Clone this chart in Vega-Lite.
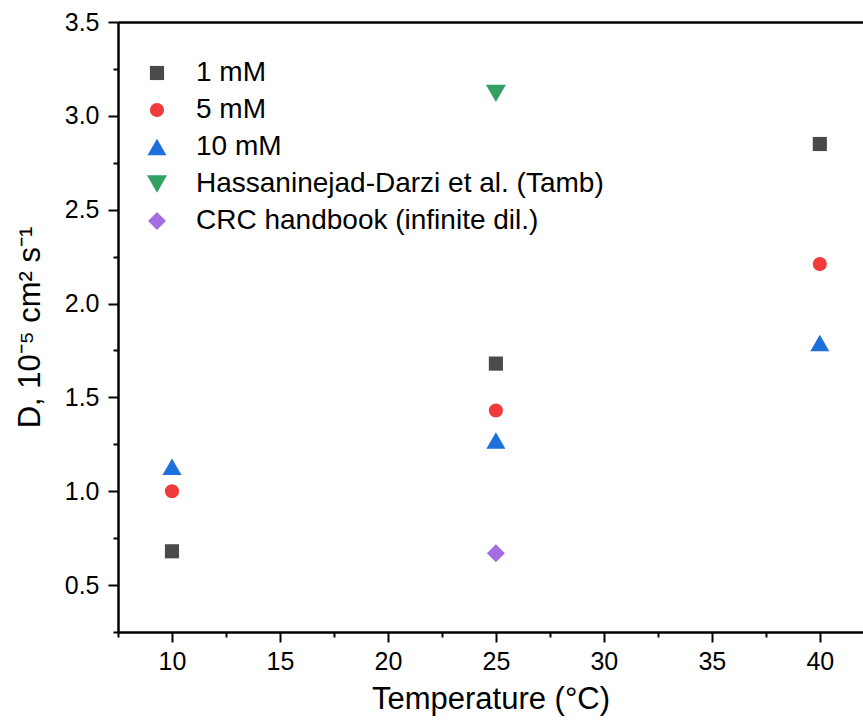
{
  "$schema": "https://vega.github.io/schema/vega-lite/v6.json",
  "width": 745,
  "height": 610,
  "autosize": {"type": "none"},
  "padding": {"left": 118, "top": 22, "right": 0, "bottom": 94},
  "config": {
    "font": "Liberation Sans",
    "view": {"stroke": null},
    "axis": {
      "domainColor": "black",
      "domainWidth": 2.5,
      "tickColor": "black",
      "tickWidth": 2,
      "labelColor": "black",
      "titleColor": "black",
      "labelFontSize": 25,
      "titleFontSize": 31,
      "titleFontWeight": "normal",
      "grid": false
    },
    "legend": {
      "labelFontSize": 28,
      "labelColor": "black",
      "labelLimit": 700
    }
  },
  "data": {
    "values": [
      {"series": "1 mM", "T": 10, "D": 0.68},
      {"series": "1 mM", "T": 25, "D": 1.68},
      {"series": "1 mM", "T": 40, "D": 2.85},
      {"series": "5 mM", "T": 10, "D": 1.0},
      {"series": "5 mM", "T": 25, "D": 1.43},
      {"series": "5 mM", "T": 40, "D": 2.21},
      {"series": "10 mM", "T": 10, "D": 1.13},
      {"series": "10 mM", "T": 25, "D": 1.27},
      {"series": "10 mM", "T": 40, "D": 1.79},
      {"series": "Hassaninejad-Darzi et al. (Tamb)", "T": 25, "D": 3.12},
      {"series": "CRC handbook (infinite dil.)", "T": 25, "D": 0.67}
    ]
  },
  "layer": [
    {
      "mark": {"type": "point", "filled": true, "opacity": 1, "strokeWidth": 0},
      "encoding": {
        "x": {
          "field": "T", "type": "quantitative",
          "scale": {"domain": [7.5, 42], "nice": false, "zero": false},
          "axis": {
            "orient": "bottom",
            "title": "Temperature (°C)",
            "values": [7.5, 10, 12.5, 15, 17.5, 20, 22.5, 25, 27.5, 30, 32.5, 35, 37.5, 40],
            "labelExpr": "datum.value % 5 === 0 ? datum.label : ''",
            "format": "d",
            "labelFontSize": 25,
            "tickSize": {"condition": {"test": "datum.value % 5 === 0", "value": 10}, "value": 5},
            "labelPadding": 7,
            "titlePadding": 10
          }
        },
        "y": {
          "field": "D", "type": "quantitative",
          "scale": {"domain": [0.25, 3.5], "nice": false, "zero": false},
          "axis": {
            "title": "D, 10⁻⁵ cm² s⁻¹",
            "values": [0.25, 0.5, 0.75, 1, 1.25, 1.5, 1.75, 2, 2.25, 2.5, 2.75, 3, 3.25, 3.5],
            "format": ".1f",
            "labelFontSize": 25,
            "labelExpr": "datum.value % 0.5 === 0 ? datum.label : ''",
            "tickSize": {"condition": {"test": "datum.value % 0.5 === 0", "value": 10}, "value": 5},
            "labelPadding": 9,
            "titlePadding": 18
          }
        },
        "color": {
          "field": "series", "type": "nominal",
          "scale": {
            "domain": ["1 mM", "5 mM", "10 mM", "Hassaninejad-Darzi et al. (Tamb)", "CRC handbook (infinite dil.)"],
            "range": ["#4a4a4a", "#ef3b3b", "#1d6fdc", "#31a060", "#a46ee0"]
          },
          "legend": {
            "title": null,
            "orient": "none",
            "legendX": 25,
            "legendY": 37,
            "rowPadding": 9,
            "labelOffset": 25,
            "padding": 0
          }
        },
        "shape": {
          "field": "series", "type": "nominal",
          "scale": {
            "domain": ["1 mM", "5 mM", "10 mM", "Hassaninejad-Darzi et al. (Tamb)", "CRC handbook (infinite dil.)"],
            "range": ["square", "circle", "triangle-up", "triangle-down", "diamond"]
          }
        },
        "size": {
          "field": "series", "type": "nominal",
          "scale": {
            "type": "ordinal",
            "domain": ["1 mM", "5 mM", "10 mM", "Hassaninejad-Darzi et al. (Tamb)", "CRC handbook (infinite dil.)"],
            "range": [200, 200, 361, 400, 324]
          }
        }
      }
    },
    {
      "mark": {"type": "point", "opacity": 0},
      "encoding": {
        "x": {
          "field": "T", "type": "quantitative",
          "axis": {"orient": "top", "labels": false, "ticks": false, "title": null}
        },
        "y": {"field": "D", "type": "quantitative"}
      }
    }
  ],
  "resolve": {"axis": {"x": "independent"}}
}
